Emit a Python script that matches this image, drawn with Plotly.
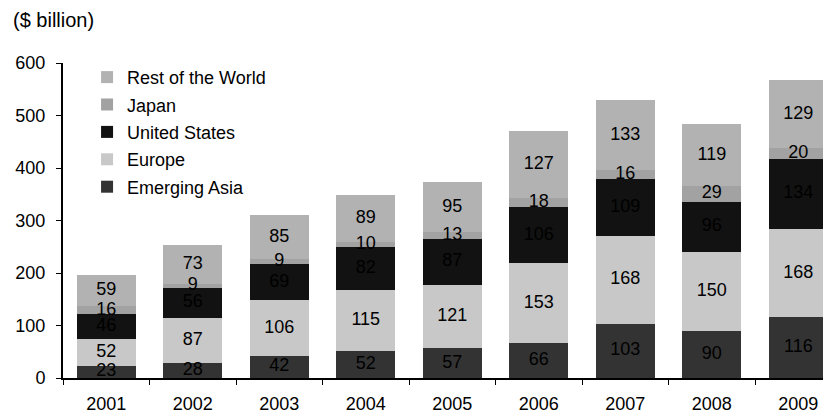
import plotly.graph_objects as go

years = ["2001", "2002", "2003", "2004", "2005", "2006", "2007", "2008", "2009"]
emerging_asia = [23, 28, 42, 52, 57, 66, 103, 90, 116]
europe = [52, 87, 106, 115, 121, 153, 168, 150, 168]
united_states = [46, 56, 69, 82, 87, 106, 109, 96, 134]
japan = [16, 9, 9, 10, 13, 18, 16, 29, 20]
rest_of_world = [59, 73, 85, 89, 95, 127, 133, 119, 129]

series = [
    ("Emerging Asia", emerging_asia, "#333333"),
    ("Europe", europe, "#C8C8C8"),
    ("United States", united_states, "#121212"),
    ("Japan", japan, "#A2A2A2"),
    ("Rest of the World", rest_of_world, "#B2B2B2"),
]

FONT = "Liberation Sans, Arial, sans-serif"
FS = 18

fig = go.Figure()
for i, (name, vals, col) in enumerate(series):
    fig.add_trace(go.Bar(
        x=years, y=vals, name=name, marker=dict(color=col, line=dict(width=0)),
        width=0.68, legendgroup="g%d" % i, legendrank=100 - i,
    ))

# value labels drawn above all bars, centred in each segment
base = [0] * len(years)
for name, vals, col in series:
    mids = [b + v / 2 for b, v in zip(base, vals)]
    fig.add_trace(go.Scatter(
        x=years, y=mids, mode="text", text=[str(v) for v in vals],
        textposition="middle center", showlegend=False, hoverinfo="skip",
        textfont=dict(color="#000000", size=FS, family=FONT), cliponaxis=False,
    ))
    base = [b + v for b, v in zip(base, vals)]

fig.update_layout(
    barmode="stack",
    width=831, height=418,
    margin=dict(l=55, r=0, t=55, b=48),
    plot_bgcolor="white", paper_bgcolor="white",
    font=dict(family=FONT, size=FS, color="#000000"),
    showlegend=True,
    legend=dict(x=0.031, y=1.013, xanchor="left", yanchor="top", traceorder="grouped",
                font=dict(size=FS, family=FONT), tracegroupgap=1, bgcolor="rgba(0,0,0,0)"),
    xaxis=dict(range=[-0.5, 8.47], type="category", showline=True, linecolor="black", linewidth=2,
               ticks="outside", tickson="boundaries", ticklen=5, tickcolor="black", tickwidth=1,
               showgrid=False, tickfont=dict(size=FS, family=FONT), ticklabelstandoff=8,
               automargin=False),
    yaxis=dict(range=[0, 600], dtick=100, showline=True, linecolor="black", linewidth=2,
               ticks="outside", ticklen=5, tickcolor="black", tickwidth=1, showgrid=False,
               zeroline=False, tickfont=dict(size=FS, family=FONT), ticklabelstandoff=7,
               automargin=False),
    annotations=[dict(text="($ billion)", xref="paper", yref="paper", x=-52/776, y=1 + 43/315,
                      xanchor="left", yanchor="middle", showarrow=False,
                      font=dict(size=20, family=FONT))],
)

fig.write_html("out.html")
